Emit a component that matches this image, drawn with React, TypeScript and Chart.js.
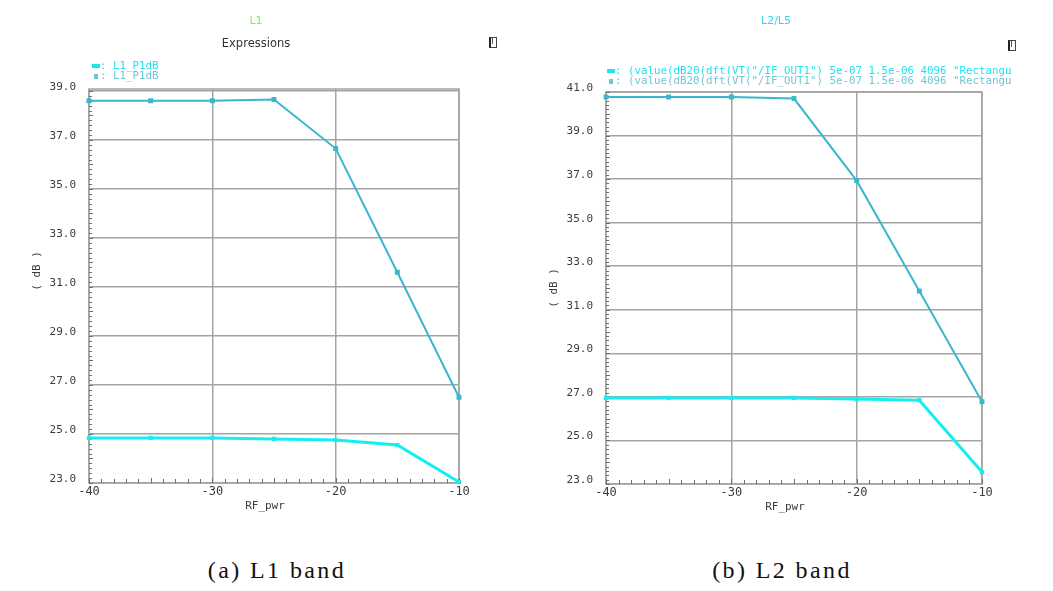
import React, { useEffect, useRef } from "react";
import { Chart, registerables } from "chart.js";
Chart.register(...registerables);

// ---- data ----
const rfPwr = [-40, -35, -30, -25, -20, -15, -10];
const xTicks = [-40, -30, -20, -10];
const l1Upper = [38.6, 38.6, 38.6, 38.65, 36.65, 31.6, 26.5];
const l1Lower = [24.84, 24.84, 24.84, 24.8, 24.75, 24.55, 23.04];
const l2Upper = [40.77, 40.77, 40.77, 40.7, 36.93, 31.86, 26.78];
const l2Lower = [26.95, 26.95, 26.95, 26.95, 26.9, 26.85, 23.55];
const l1YTicks = [23, 25, 27, 29, 31, 33, 35, 37, 39];
const l2YTicks = [23, 25, 27, 29, 31, 33, 35, 37, 39, 41];

const l1Legend = ["L1_P1dB", "L1_P1dB"];
const l2Legend = [
  '(value(dB20(dft(VT("/IF_OUT1") 5e-07 1.5e-06 4096 "Rectangu',
  '(value(dB20(dft(VT("/IF_OUT1") 5e-07 1.5e-06 4096 "Rectangu',
];

const UPPER_COLOR = "#3ab6cf";
const LOWER_COLOR = "#14eef2";
const GRID = "#a4a4a4";
const MONO = "'DejaVu Sans Mono', monospace";

type Spec = {
  width: number;
  height: number;
  area: { left: number; top: number; right: number; bottom: number };
  yMin: number;
  yMax: number;
  yTicks: number[];
  upper: number[];
  lower: number[];
  yTitleY: number;
};

function makeChart(canvas: HTMLCanvasElement, s: Spec) {
  const frame = {
    id: "frame",
    beforeDatasetsDraw(chart: any) {
      const { ctx, chartArea: a, scales } = chart;
      const xs = scales.x;
      const ys = scales.y;
      ctx.save();
      ctx.strokeStyle = GRID;
      ctx.lineWidth = 1.5;
      ctx.strokeRect(a.left, a.top, a.right - a.left, a.bottom - a.top);
      ctx.strokeStyle = "#6e6e6e";
      ctx.lineWidth = 1;
      for (let v = s.yMin; v <= s.yMax + 1e-9; v += 0.2) {
        const y = Math.round(ys.getPixelForValue(v)) + 0.5;
        const len = Math.abs(v - Math.round(v)) < 1e-6 ? 4 : 3;
        ctx.beginPath();
        ctx.moveTo(a.left, y);
        ctx.lineTo(a.left + len, y);
        ctx.stroke();
      }
      for (let v = -40; v <= -10; v += 1) {
        const x = Math.round(xs.getPixelForValue(v)) + 0.5;
        const len = v % 5 === 0 ? 5 : 4;
        ctx.beginPath();
        ctx.moveTo(x, a.bottom);
        ctx.lineTo(x, a.bottom - len);
        ctx.stroke();
      }
      ctx.restore();
    },
    afterDraw(chart: any) {
      const { ctx, chartArea: a } = chart;
      ctx.save();
      ctx.fillStyle = "#3c3c3c";
      ctx.font = `11px ${MONO}`;
      ctx.textAlign = "center";
      ctx.textBaseline = "middle";
      ctx.fillText("RF_pwr", (a.left + a.right) / 2 - 9, a.bottom + 23);
      ctx.translate(a.left - 52, s.yTitleY);
      ctx.rotate(-Math.PI / 2);
      ctx.fillText("( dB )", 0, 0);
      ctx.restore();
    },
  };

  const toPts = (arr: number[]) => rfPwr.map((x, i) => ({ x, y: arr[i] }));

  return new Chart(canvas, {
    type: "line",
    data: {
      datasets: [
        {
          data: toPts(s.upper),
          borderColor: UPPER_COLOR,
          backgroundColor: UPPER_COLOR,
          borderWidth: 2,
          pointStyle: "rect",
          pointRadius: 3.5,
          pointBorderWidth: 0,
          clip: false as any,
        },
        {
          data: toPts(s.lower),
          borderColor: LOWER_COLOR,
          backgroundColor: LOWER_COLOR,
          borderWidth: 3,
          pointStyle: "rect",
          pointRadius: 3,
          pointBorderWidth: 0,
          clip: false as any,
        },
      ],
    },
    options: {
      responsive: false,
      animation: false,
      layout: {
        padding: {
          left: 0,
          top: s.area.top,
          right: s.width - s.area.right,
          bottom: 0,
        },
      },
      plugins: {
        legend: { display: false },
        title: { display: false },
        tooltip: { enabled: false },
      },
      scales: {
        x: {
          type: "linear",
          min: -40,
          max: -10,
          afterFit: (sc: any) => {
            sc.height = s.height - s.area.bottom;
          },
          afterBuildTicks: (sc: any) => {
            sc.ticks = xTicks.map((v) => ({ value: v }));
          },
          ticks: {
            color: "#3c3c3c",
            font: { family: MONO, size: 12 },
            padding: 2,
            maxRotation: 0,
          },
          grid: { color: GRID, lineWidth: 1.5, drawTicks: false },
          border: { display: false },
        },
        y: {
          type: "linear",
          min: s.yMin,
          max: s.yMax,
          afterFit: (sc: any) => {
            sc.width = s.area.left;
          },
          afterBuildTicks: (sc: any) => {
            sc.ticks = s.yTicks.map((v) => ({ value: v }));
          },
          ticks: {
            color: "#3c3c3c",
            font: { family: MONO, size: 11 },
            padding: 13,
            labelOffset: -4,
            callback: (v: any) => Number(v).toFixed(1),
          },
          grid: { color: GRID, lineWidth: 1.5, drawTicks: false },
          border: { display: false },
        },
      },
    },
    plugins: [frame],
  } as any);
}

function Panel(props: {
  left: number;
  spec: Spec;
  title: string;
  titleColor: string;
  titleX: number;
  subtitle?: string;
  legend: string[];
  legendX: number;
  legendY: number;
  iconX: number;
  iconY: number;
}) {
  const ref = useRef<HTMLCanvasElement>(null);
  useEffect(() => {
    const c = makeChart(ref.current!, props.spec);
    return () => c.destroy();
  }, []);
  const { spec } = props;
  const legColors = ["#1ee4f0", "#72c6d2"];
  return (
    <div
      style={{
        position: "absolute",
        left: props.left,
        top: 0,
        width: spec.width,
        height: spec.height,
      }}
    >
      <canvas
        ref={ref}
        width={spec.width}
        height={spec.height}
        style={{ position: "absolute", left: 0, top: 0 }}
      />
      <div
        style={{
          position: "absolute",
          left: props.titleX - 60,
          width: 120,
          top: 14,
          textAlign: "center",
          font: "11px 'DejaVu Sans', sans-serif",
          color: props.titleColor,
        }}
      >
        {props.title}
      </div>
      {props.subtitle && (
        <div
          style={{
            position: "absolute",
            left: props.titleX - 80,
            width: 160,
            top: 36,
            textAlign: "center",
            font: "11.5px 'DejaVu Sans', sans-serif",
            color: "#333",
          }}
        >
          {props.subtitle}
        </div>
      )}
      {props.legend.map((t, i) => (
        <div
          key={i}
          style={{
            position: "absolute",
            left: props.legendX,
            top: props.legendY + i * 10,
            font: `10.8px ${MONO}`,
            lineHeight: "11px",
            color: legColors[i],
            whiteSpace: "nowrap",
          }}
        >
          <span
            style={{
              display: "inline-block",
              width: i === 0 ? 8 : 4,
              height: i === 0 ? 4 : 5,
              marginLeft: i === 0 ? 0 : 2,
              marginRight: i === 0 ? 0 : 2,
              background: legColors[i],
              verticalAlign: "middle",
            }}
          />
          {": " + t}
        </div>
      ))}
      <div
        style={{
          position: "absolute",
          left: props.iconX,
          top: props.iconY,
          width: 5,
          height: 9,
          border: "1px solid #444",
          borderLeft: "2px solid #222",
          background: "#fff",
        }}
      >
        <div
          style={{
            position: "absolute",
            left: 1,
            top: 0,
            width: 1,
            height: 6,
            background: "#555",
          }}
        />
      </div>
    </div>
  );
}

export default function App() {
  const leftSpec: Spec = {
    width: 530,
    height: 540,
    area: { left: 89, top: 89, right: 459, bottom: 483 },
    yMin: 23,
    yMax: 39.08,
    yTicks: l1YTicks,
    upper: l1Upper,
    lower: l1Lower,
    yTitleY: 271,
  };
  const rightSpec: Spec = {
    width: 523,
    height: 540,
    area: { left: 76, top: 92, right: 452, bottom: 484 },
    yMin: 23,
    yMax: 41,
    yTicks: l2YTicks,
    upper: l2Upper,
    lower: l2Lower,
    yTitleY: 288,
  };
  const caption: React.CSSProperties = {
    position: "absolute",
    top: 557,
    width: 300,
    textAlign: "center",
    font: "24px 'Liberation Serif', serif",
    letterSpacing: "2.4px",
    color: "#111",
    whiteSpace: "pre",
  };
  return (
    <div
      style={{
        position: "absolute",
        left: 0,
        top: 0,
        width: 1053,
        height: 591,
        background: "#fff",
        overflow: "hidden",
      }}
    >
      <Panel
        left={0}
        spec={leftSpec}
        title="L1"
        titleColor="#86ee5a"
        titleX={256}
        subtitle="Expressions"
        legend={l1Legend}
        legendX={92}
        legendY={60}
        iconX={489}
        iconY={37}
      />
      <Panel
        left={530}
        spec={rightSpec}
        title="L2/L5"
        titleColor="#2ad8ee"
        titleX={246}
        legend={l2Legend}
        legendX={77}
        legendY={65}
        iconX={478}
        iconY={40}
      />
      <div style={{ ...caption, left: 127 }}>{"(a) L1 band"}</div>
      <div style={{ ...caption, left: 632 }}>{"(b) L2 band"}</div>
    </div>
  );
}
